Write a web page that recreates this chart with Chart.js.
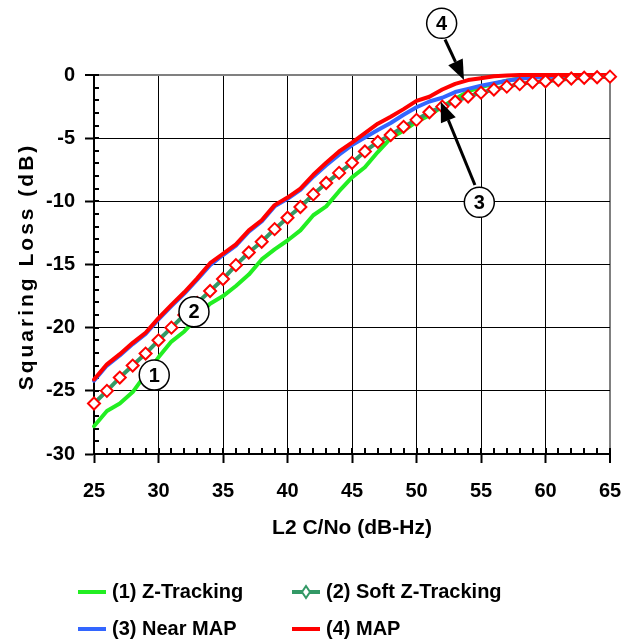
<!DOCTYPE html>
<html>
<head>
<meta charset="utf-8">
<script src="https://cdn.jsdelivr.net/npm/chart.js@4.4.1/dist/chart.umd.min.js"></script>
<style>
  html, body { margin: 0; padding: 0; background: #fff; }
  canvas { display: block; }
</style>
</head>
<body>
<canvas id="chart" width="639" height="643"></canvas>
<script>
// L2 C/No (dB-Hz), one point per dB-Hz
const cn0 = [25, 26, 27, 28, 29, 30, 31, 32, 33, 34, 35, 36, 37, 38, 39, 40, 41, 42, 43, 44, 45,
  46, 47, 48, 49, 50, 51, 52, 53, 54, 55, 56, 57, 58, 59, 60, 61, 62, 63, 64, 65];

// squaring loss (dB)
const zTracking = [-27.8, -26.6, -26.0, -25.1, -23.7, -22.35, -21.1, -20.3, -19.2, -18.1, -17.5,
  -16.7, -15.8, -14.6, -13.8, -13.1, -12.3, -11.1, -10.4, -9.2, -8.1, -7.3, -6.1, -5.0, -4.4,
  -3.7, -3.2, -2.5, -1.9, -1.3, -0.95, -0.7, -0.45, -0.28, -0.15, -0.06, -0.02, 0, 0, 0, 0];
const softZTracking = [-26.0, -25.0, -23.95, -23.0, -22.05, -21.0, -20.0, -19.0, -18.05, -17.1,
  -16.15, -15.05, -14.05, -13.2, -12.2, -11.3, -10.45, -9.45, -8.55, -7.75, -6.95, -6.05, -5.3,
  -4.75, -4.1, -3.55, -2.95, -2.5, -2.1, -1.7, -1.4, -1.15, -0.92, -0.72, -0.58, -0.5, -0.4,
  -0.28, -0.22, -0.18, -0.13];
const nearMap = [-24.2, -23.0, -22.2, -21.3, -20.5, -19.35, -18.3, -17.3, -16.2, -15.05, -14.25,
  -13.5, -12.4, -11.6, -10.4, -9.8, -9.1, -8.05, -7.15, -6.3, -5.55, -4.95, -4.35, -3.8, -3.15,
  -2.55, -2.1, -1.8, -1.35, -1.1, -0.85, -0.65, -0.45, -0.3, -0.2, -0.15, -0.12, -0.1, -0.1,
  -0.1, -0.1];
const map = [-24.1, -22.9, -22.1, -21.2, -20.4, -19.25, -18.2, -17.2, -16.1, -14.9, -14.15,
  -13.4, -12.3, -11.5, -10.3, -9.7, -9.0, -7.9, -6.95, -6.05, -5.35, -4.6, -3.85, -3.3, -2.7,
  -2.05, -1.72, -1.15, -0.7, -0.4, -0.25, -0.1, -0.04, 0, 0, 0, 0, 0, 0, 0, 0];

const seriesLabels = ['(1) Z-Tracking', '(2) Soft Z-Tracking', '(3) Near MAP', '(4) MAP'];

// numbered callouts, placed in data units
const callouts = [
  { text: '1', at: [29.67, -23.75] },
  { text: '2', at: [32.75, -18.74] },
  { text: '3', at: [54.87, -10.08], from: [54.53, -8.71], to: [51.88, -2.11] },
  { text: '4', at: [51.95, 4.09], from: [52.21, 2.81], to: [53.68, -0.40] }
];

const FONT = 'Arial, "Liberation Sans", sans-serif';
Chart.defaults.font.family = FONT;
Chart.defaults.color = '#000';

const pts = ys => cn0.map((x, i) => ({ x, y: ys[i] }));
const tickFont = { family: FONT, size: 20, weight: 'bold' };

const minorTicks = {
  id: 'minorTicks',
  beforeDatasetsDraw(chart) {
    const { ctx, chartArea: a, scales: { x, y } } = chart;
    ctx.save();
    ctx.strokeStyle = '#000';
    ctx.lineWidth = 2;
    ctx.beginPath();
    for (let v = x.min; v <= x.max; v++) {
      const px = Math.round(x.getPixelForValue(v));
      ctx.moveTo(px, a.bottom);
      ctx.lineTo(px, a.bottom - 6);
    }
    for (let v = y.min; v <= y.max; v++) {
      const py = Math.round(y.getPixelForValue(v));
      ctx.moveTo(a.left, py);
      ctx.lineTo(a.left + 5, py);
    }
    ctx.stroke();
    ctx.restore();
  }
};

const yTitle = {
  id: 'yTitle',
  afterDraw(chart) {
    const { ctx, chartArea: a } = chart;
    ctx.save();
    ctx.translate(33, (a.top + a.bottom) / 2 + 2);
    ctx.rotate(-Math.PI / 2);
    ctx.font = 'bold 21px ' + FONT;
    ctx.letterSpacing = '3px';
    ctx.fillStyle = '#000';
    ctx.textAlign = 'center';
    ctx.textBaseline = 'alphabetic';
    ctx.fillText('Squaring Loss (dB)', 0, 0);
    ctx.restore();
  }
};

const legendBox = {
  id: 'legendBox',
  afterDraw(chart) {
    const { ctx } = chart;
    const cols = [78, 292];
    const rows = [592, 629];
    ctx.save();
    ctx.font = 'bold 20px ' + FONT;
    ctx.textBaseline = 'middle';
    ctx.fillStyle = '#000';
    chart.data.datasets.forEach((ds, i) => {
      const x0 = cols[i % 2];
      const yc = rows[Math.floor(i / 2)];
      ctx.strokeStyle = ds.borderColor;
      ctx.lineWidth = 4;
      ctx.beginPath();
      ctx.moveTo(x0, yc);
      ctx.lineTo(x0 + 28, yc);
      ctx.stroke();
      if (ds.pointStyle === 'rectRot') {
        const cx = x0 + 14;
        ctx.lineWidth = 2;
        ctx.fillStyle = '#fff';
        ctx.beginPath();
        ctx.moveTo(cx, yc - 6);
        ctx.lineTo(cx + 4, yc);
        ctx.lineTo(cx, yc + 6);
        ctx.lineTo(cx - 4, yc);
        ctx.closePath();
        ctx.fill();
        ctx.stroke();
        ctx.fillStyle = '#000';
      }
      ctx.fillText(ds.label, x0 + 34, yc);
    });
    ctx.restore();
  }
};

const calloutLayer = {
  id: 'callouts',
  afterDraw(chart) {
    const { ctx, scales: { x, y } } = chart;
    const P = p => [x.getPixelForValue(p[0]), y.getPixelForValue(p[1])];
    ctx.save();
    callouts.forEach(c => {
      if (!c.from) return;
      const [x1, y1] = P(c.from);
      const [x2, y2] = P(c.to);
      const ang = Math.atan2(y2 - y1, x2 - x1);
      const hl = 20, hw = 8;
      const bx = x2 - hl * Math.cos(ang), by = y2 - hl * Math.sin(ang);
      ctx.strokeStyle = '#000';
      ctx.fillStyle = '#000';
      ctx.lineWidth = 3;
      ctx.beginPath();
      ctx.moveTo(x1, y1);
      ctx.lineTo(bx, by);
      ctx.stroke();
      ctx.beginPath();
      ctx.moveTo(x2, y2);
      ctx.lineTo(bx + hw * Math.sin(ang), by - hw * Math.cos(ang));
      ctx.lineTo(bx - hw * Math.sin(ang), by + hw * Math.cos(ang));
      ctx.closePath();
      ctx.fill();
    });
    ctx.font = 'bold 20px ' + FONT;
    ctx.textAlign = 'center';
    ctx.textBaseline = 'middle';
    callouts.forEach(c => {
      const [cx, cy] = P(c.at);
      ctx.beginPath();
      ctx.arc(cx, cy, 15, 0, Math.PI * 2);
      ctx.fillStyle = '#fff';
      ctx.fill();
      ctx.lineWidth = 1.5;
      ctx.strokeStyle = '#000';
      ctx.stroke();
      ctx.fillStyle = '#000';
      ctx.fillText(c.text, cx, cy + 1);
    });
    ctx.restore();
  }
};

new Chart(document.getElementById('chart'), {
  type: 'line',
  data: {
    datasets: [
      { label: seriesLabels[0], data: pts(zTracking), borderColor: '#22ee22', borderWidth: 4,
        pointRadius: 0, order: 3, clip: 8 },
      { label: seriesLabels[1], data: pts(softZTracking), borderColor: '#339966', borderWidth: 4,
        pointStyle: 'rectRot', pointRadius: 6, pointBorderColor: '#ff0000',
        pointBackgroundColor: '#ffffff', pointBorderWidth: 2, order: 0, clip: 8 },
      { label: seriesLabels[2], data: pts(nearMap), borderColor: '#3366ff', borderWidth: 4,
        pointRadius: 0, order: 2, clip: 8 },
      { label: seriesLabels[3], data: pts(map), borderColor: '#ff0000', borderWidth: 4,
        pointRadius: 0, order: 1, clip: 8 }
    ]
  },
  options: {
    responsive: false,
    animation: false,
    devicePixelRatio: 1,
    layout: { padding: { top: 75, right: 29, bottom: 94, left: 0 } },
    elements: { line: { tension: 0, borderJoinStyle: 'round', borderCapStyle: 'round' } },
    plugins: { legend: { display: false }, tooltip: { enabled: false } },
    scales: {
      x: {
        type: 'linear', min: 25, max: 65,
        ticks: { stepSize: 5, padding: 16, color: '#000', font: tickFont },
        grid: {
          color: c => (c.tick && c.tick.value === 65 ? '#808080' : '#000'),
          lineWidth: c => (c.tick && c.tick.value === 65 ? 2 : 1),
          tickColor: '#000', tickWidth: 2, tickLength: 9
        },
        border: { color: '#000', width: 2 },
        title: {
          display: true, text: 'L2 C/No (dB-Hz)', color: '#000',
          font: { family: FONT, size: 21, weight: 'bold' },
          padding: { top: 0, bottom: 8 }
        },
        afterFit: s => { s.height = 95; }
      },
      y: {
        min: -30, max: 0,
        ticks: { stepSize: 5, padding: 10, color: '#000', font: tickFont },
        grid: {
          color: c => (c.tick && c.tick.value === 0 ? '#808080' : '#000'),
          lineWidth: c => (c.tick && c.tick.value === 0 ? 2 : 1),
          tickColor: '#000', tickWidth: 2, tickLength: 9
        },
        border: { color: '#000', width: 2 },
        afterFit: s => { s.width = 94; }
      }
    }
  },
  plugins: [minorTicks, yTitle, legendBox, calloutLayer]
});
</script>
</body>
</html>
